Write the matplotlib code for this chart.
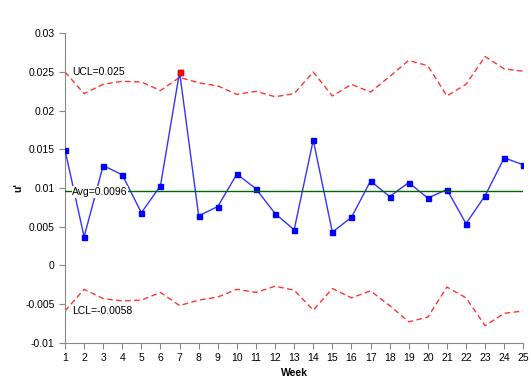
import matplotlib
matplotlib.use("Agg")
import matplotlib.pyplot as plt

weeks = list(range(1, 26))
u_prime = [0.0149, 0.0037, 0.0129, 0.0117, 0.0068, 0.0103, 0.0250, 0.0064, 0.0076, 0.0118,
           0.0099, 0.0067, 0.0046, 0.0162, 0.0043, 0.0062, 0.0109, 0.0089, 0.0107, 0.0087,
           0.0098, 0.0054, 0.0090, 0.0139, 0.0130]
ucl = [0.0250, 0.0222, 0.0234, 0.0238, 0.0237, 0.0226, 0.0243, 0.0236, 0.0232, 0.0221,
       0.0225, 0.0218, 0.0222, 0.0250, 0.0219, 0.0234, 0.0224, 0.0244, 0.0265, 0.0258,
       0.0219, 0.0234, 0.0270, 0.0254, 0.0251]
lcl = [-0.0059, -0.0031, -0.0043, -0.0046, -0.0045, -0.0035, -0.0052, -0.0045, -0.0041, -0.0031,
       -0.0035, -0.0027, -0.0032, -0.0058, -0.0030, -0.0042, -0.0033, -0.0052, -0.0073, -0.0067,
       -0.0028, -0.0042, -0.0078, -0.0062, -0.0059]
avg = 0.0096
out_of_control = [7]
ucl_label = "UCL=0.025"
avg_label = "Avg=0.0096"
lcl_label = "LCL=-0.0058"
y_ticks = [-0.01, -0.005, 0, 0.005, 0.01, 0.015, 0.02, 0.025, 0.03]
y_tick_labels = ["-0.01", "-0.005", "0", "0.005", "0.01", "0.015", "0.02", "0.025", "0.03"]

plt.rcParams['font.family'] = ['Liberation Sans', 'DejaVu Sans']

fig = plt.figure(figsize=(5.31, 3.84), dpi=100)
ax = fig.add_axes([65/531, 1-342.7/384, (523.3-65)/531, (342.7-33.3)/384])

ax.plot(weeks, ucl, color='#FF3333', lw=1.0, ls=(0, (4, 2.5)), zorder=2)
ax.plot(weeks, lcl, color='#FF3333', lw=1.0, ls=(0, (4, 2.5)), zorder=2)
ax.plot(weeks, u_prime, color='#3333FF', lw=1.0, marker='s', ms=3.6,
        markerfacecolor='#0000FF', markeredgecolor='#0000FF', zorder=3)
ox = [w for w in out_of_control]
oy = [u_prime[w-1] for w in out_of_control]
ax.plot(ox, oy, ls='none', marker='s', ms=3.6, color='#FF0000', zorder=4)
ax.axhline(avg, color='#006600', lw=1.0, zorder=5)

bbox = dict(facecolor='white', edgecolor='none', pad=0.5)
ax.text(1.38, ucl[0], ucl_label, fontsize=7.5, va='center', ha='left', bbox=bbox, zorder=6)
ax.text(1.38, avg - 0.0001, avg_label, fontsize=7.5, va='center', ha='left', bbox=bbox, zorder=6)
ax.text(1.38, lcl[0], lcl_label, fontsize=7.5, va='center', ha='left', bbox=bbox, zorder=6)

ax.set_xlim(1, 25)
ax.set_ylim(-0.01, 0.03)
ax.set_xticks(weeks)
ax.set_xticklabels([str(w) for w in weeks], fontsize=7.5)
ax.set_yticks(y_ticks)
ax.set_yticklabels(y_tick_labels, fontsize=7.5)
for s in ['top', 'right']:
    ax.spines[s].set_visible(False)
for s in ['left', 'bottom']:
    ax.spines[s].set_color('#888888')
    ax.spines[s].set_linewidth(0.8)
ax.tick_params(axis='both', colors='#888888', labelcolor='black', length=4, width=0.8, direction='out')
ax.set_xlabel('Week', fontsize=7.5, fontweight='bold')
ax.set_ylabel("u'", fontsize=7.5, fontweight='bold')
ax.yaxis.set_label_coords(-0.091, 0.5)
ax.xaxis.set_label_coords(0.5, (342.7 - 368.5) / (342.7 - 33.3))

fig.savefig('out.png', dpi=100)
